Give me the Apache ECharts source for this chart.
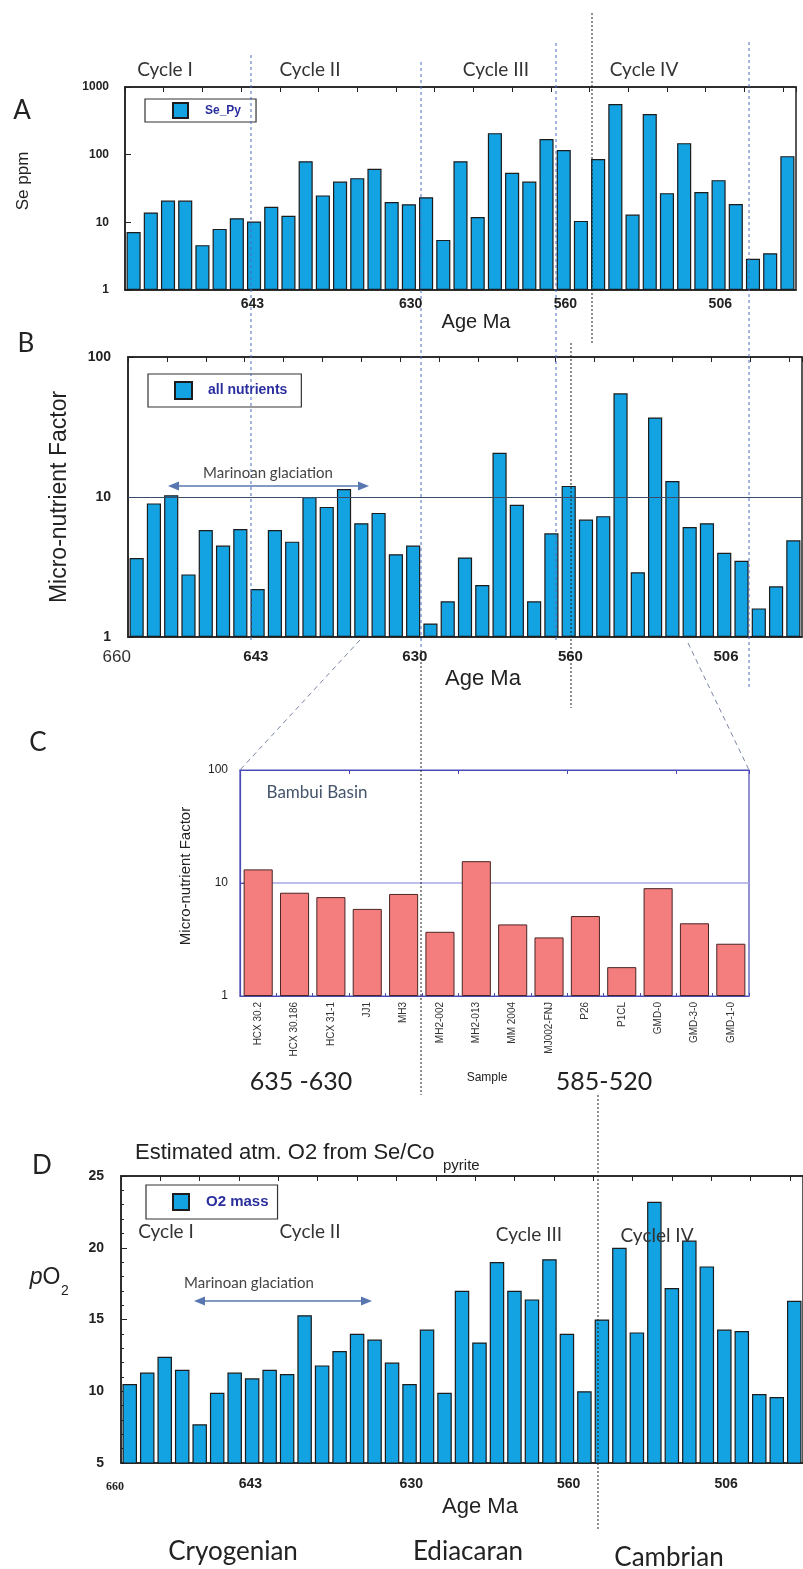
<!DOCTYPE html>
<html>
<head>
<meta charset="utf-8">
<script src="https://cdn.jsdelivr.net/npm/echarts@6/dist/echarts.min.js"></script>
<style>
html,body{margin:0;padding:0;background:#fff}
#main{width:803px;height:1569px}
</style>
</head>
<body>
<div id="main"></div>
<script>
// sample slots, oldest (660 Ma) on the left
const slots = ['1','2','3','4','5','6','7','8','9','10','11','12','13','14','15','16','17','18','19','20',
  '21','22','23','24','25','26','27','28','29','30','31','32','33','34','35','36','37','38','39']

// A: Se in pyrite (ppm, log)
const sePy = [7.2, 14, 21, 21, 4.6, 8, 11.5, 10.3, 17, 12.5, 80, 25, 40, 45, 62, 20, 18.5, 23.5, 5.5, 80,
  12, 208, 54, 40, 170, 117, 10.5, 86, 560, 13, 400, 27, 148, 28, 42, 18.6, 2.9, 3.5, 95]

// B: micro-nutrient factor (log)
const allNutrients = [3.67, 9.0, 10.3, 2.8, 5.8, 4.5, 5.9, 2.2, 5.8, 4.8, 10, 8.5, 11.4, 6.5, 7.7, 3.9, 4.5, 1.25, 1.8, 3.7,
  2.35, 20.7, 8.8, 1.8, 5.5, 12, 6.9, 7.3, 55, 2.9, 37, 13, 6.1, 6.5, 4.0, 3.5, 1.6, 2.3, 4.9]

// C: Bambui basin samples
const bambuiSamples = ['HCX 30.2','HCX 30.186','HCX 31-1','JJ1','MH3','MH2-002','MH2-013','MM 2004',
  'MJ002-FNJ','P26','P1CL','GMD-0','GMD-3-0','GMD-1-0']
const bambuiValues = [13.2, 8.2, 7.5, 5.9, 8.0, 3.7, 15.6, 4.3, 3.3, 5.1, 1.8, 9.0, 4.4, 2.9]

// D: pO2
const o2Mass = [10.5, 11.3, 12.4, 11.5, 7.7, 9.9, 11.3, 10.9, 11.5, 11.2, 15.3, 11.8, 12.8, 14.0, 13.6, 12.0, 10.5, 14.3, 9.9, 17.0,
  13.4, 19.0, 17.0, 16.4, 19.2, 14.0, 10.0, 15.0, 20.0, 14.1, 23.2, 17.2, 20.5, 18.7, 14.3, 14.2, 9.8, 9.6, 16.3]

// age tick labels and where they sit, in sample slots from the left edge
const ageTicks = ['643', '630', '560', '506']
const ageTickPos = [7.4, 16.6, 25.6, 34.6]
const firstAge = '660'
const firstAgePos = [-0.65, -0.35]   // panel B, panel D

const SANS = '"Liberation Sans", Arial, sans-serif'
const CAL = 'Lato, "Open Sans", sans-serif'
const BAR = '#13a2e2'
const EDGE = '#1c1c1c'
const LEG = '#2b2f9e'

const chart = echarts.init(document.getElementById('main'))

function catAxis(g, data, extra) {
  return Object.assign({
    type: 'category', gridIndex: g, data: data,
    axisLine: {show: true, lineStyle: {color: '#222', width: 1.5}},
    axisTick: {show: false}, axisLabel: {show: false}
  }, extra || {})
}
function slotAxis(g) {
  // hidden-label value axis over the same slots, used for top ticks and placing age labels
  return {
    type: 'value', gridIndex: g, position: 'top', min: 0, max: 39, interval: 2.25,
    axisLine: {show: true, lineStyle: {color: '#222', width: 1.5}},
    axisTick: {show: true, inside: true, length: 5, lineStyle: {color: '#222'}},
    axisLabel: {show: false}, splitLine: {show: false}
  }
}
function leftAxis(g, type, min, max, lab, extra) {
  return Object.assign({
    type: type, gridIndex: g, min: min, max: max, logBase: 10,
    axisLine: {show: true, lineStyle: {color: '#222', width: 1.5}},
    axisTick: {show: true, inside: true, length: 6, lineStyle: {color: '#222'}},
    axisLabel: lab, splitLine: {show: false}
  }, extra || {})
}
function legendBox(name, left, top, pad, icon, fs, tpad) {
  return {
    data: [name], left: left, top: top, padding: pad, selectedMode: false,
    borderColor: '#333', borderWidth: 1.2, icon: 'rect', itemWidth: icon, itemHeight: icon,
    textStyle: {fontFamily: SANS, fontWeight: 'bold', fontSize: fs, color: LEG, padding: [0, 0, 0, tpad]}
  }
}
const plain = v => String(Math.round(v))
const boldLab = (fs, m) => ({fontFamily: SANS, fontWeight: 'bold', fontSize: fs, color: '#222', margin: m, formatter: plain})

const option = {
  animation: false,
  backgroundColor: '#fff',
  grid: [
    {left: 125, top: 87, width: 671, height: 203, show: true, borderColor: '#222', borderWidth: 1.5},
    {left: 128, top: 357, width: 674, height: 280, show: true, borderColor: '#222', borderWidth: 1.5},
    {left: 240, top: 770, width: 509, height: 226, show: true, borderColor: '#4a4ab5', borderWidth: 1.2},
    {left: 121, top: 1176, width: 682, height: 287, show: true, borderColor: '#222', borderWidth: 1.5}
  ],
  legend: [
    legendBox('Se_Py', 145, 99, [3, 15, 3, 27], 15, 12, 12),
    legendBox('all nutrients', 148, 374, [7, 14, 7, 26], 17, 14, 11),
    legendBox('O2 mass', 146, 1185, [8, 9, 8, 26], 16, 15, 12)
  ],
  xAxis: [
    catAxis(0, slots),
    catAxis(1, slots),
    catAxis(2, bambuiSamples, {
      axisLine: {show: true, lineStyle: {color: '#4a4ab5', width: 1.2}},
      axisTick: {show: true, inside: true, length: 3, lineStyle: {color: '#4a4ab5'}},
      axisLabel: {show: true, rotate: 90, interval: 0, margin: 6, fontFamily: SANS, fontSize: 10, color: '#333'}
    }),
    catAxis(3, slots),
    slotAxis(0),
    slotAxis(1),
    slotAxis(3),
    catAxis(2, bambuiSamples, {
      position: 'top',
      axisLine: {show: true, lineStyle: {color: '#4a4ab5', width: 1.2}},
      axisTick: {show: true, inside: true, length: 4, lineStyle: {color: '#4a4ab5'}}
    })
  ],
  yAxis: [
    leftAxis(0, 'log', 1, 1000, boldLab(12, 16)),
    leftAxis(1, 'log', 1, 100, boldLab(14, 17)),
    leftAxis(2, 'log', 1, 100, {fontFamily: SANS, fontSize: 12, color: '#222', margin: 12, formatter: plain}, {
      axisLine: {show: true, lineStyle: {color: '#4a4ab5', width: 1.2}},
      axisTick: {show: true, inside: true, length: 5, lineStyle: {color: '#4a4ab5'}},
      splitLine: {show: true, lineStyle: {color: '#a9a9e3', width: 1.5}}
    }),
    leftAxis(3, 'value', 5, 25, boldLab(14, 17), {
      interval: 5,
      minorTick: {show: true, splitNumber: 5, length: 3, lineStyle: {color: '#222'}}
    })
  ],
  series: [
    {
      name: 'Se_Py', type: 'bar', xAxisIndex: 0, yAxisIndex: 0, data: sePy, barCategoryGap: '18%',
      itemStyle: {color: BAR, borderColor: EDGE, borderWidth: 1.2}
    },
    {
      name: 'all nutrients', type: 'bar', xAxisIndex: 1, yAxisIndex: 1, data: allNutrients, barCategoryGap: '18%',
      itemStyle: {color: BAR, borderColor: EDGE, borderWidth: 1.2},
      markLine: {
        silent: true, symbol: 'none', label: {show: false},
        lineStyle: {color: '#3b4c6b', width: 1.2, type: 'solid'},
        data: [{yAxis: 10}]
      }
    },
    {
      name: 'Bambui', type: 'bar', xAxisIndex: 2, yAxisIndex: 2, data: bambuiValues, barCategoryGap: '20%',
      itemStyle: {color: '#f47e7e', borderColor: '#4a2424', borderWidth: 1}
    },
    {
      name: 'O2 mass', type: 'bar', xAxisIndex: 3, yAxisIndex: 3, data: o2Mass, barCategoryGap: '17%',
      itemStyle: {color: BAR, borderColor: EDGE, borderWidth: 1.2}
    }
  ]
}
chart.setOption(option)

// annotations
function txt(x, y, str, font, fill, extra) {
  return Object.assign({
    type: 'text', x: x, y: y, z: 100,
    style: {text: str, font: font, fill: fill || '#222', align: 'center', verticalAlign: 'middle'}
  }, extra || {})
}
function ltxt(x, y, str, font) {
  return {type: 'text', x: x, y: y, z: 100,
    style: {text: str, font: font, fill: '#222', align: 'left', verticalAlign: 'middle'}}
}
function seg(x1, y1, x2, y2, color, dash, w) {
  return {type: 'line', z: 90, shape: {x1: x1, y1: y1, x2: x2, y2: y2},
    style: {stroke: color, lineWidth: w || 1, lineDash: dash || null}}
}
function arrow(x1, x2, y) {
  const c = '#5877b0'
  return [
    seg(x1 + 6, y, x2 - 6, y, c, null, 1.5),
    {type: 'polygon', z: 90, shape: {points: [[x1, y], [x1 + 11, y - 4.5], [x1 + 11, y + 4.5]]}, style: {fill: c}},
    {type: 'polygon', z: 90, shape: {points: [[x2, y], [x2 - 11, y - 4.5], [x2 - 11, y + 4.5]]}, style: {fill: c}}
  ]
}
const rot = {rotation: Math.PI / 2}
const g = []

// panel letters
g.push(txt(22, 111, 'A', '26px ' + CAL), txt(26, 344, 'B', '26px ' + CAL),
  txt(38, 743, 'C', '26px ' + CAL), txt(42, 1166, 'D', '26px ' + CAL))

// A
g.push(txt(165, 70, 'Cycle I', '19px ' + CAL, '#333'), txt(310, 70, 'Cycle II', '19px ' + CAL, '#333'),
  txt(496, 70, 'Cycle III', '19px ' + CAL, '#333'), txt(644, 70, 'Cycle IV', '19px ' + CAL, '#333'))
g.push(txt(23, 181, 'Se ppm', '17px ' + SANS, '#222', rot))
g.push(txt(476, 322, 'Age Ma', '20px ' + SANS))

// B
g.push(txt(60, 497, 'Micro-nutrient Factor', '23px ' + SANS, '#222', rot))
g.push(txt(268, 473, 'Marinoan glaciation', '15px ' + CAL, '#444'))
g.push(...arrow(168, 369, 486))
g.push(txt(483, 679, 'Age Ma', '22px ' + SANS))

// C
g.push(txt(186, 876, 'Micro-nutrient Factor', '15px ' + SANS, '#222', rot))
g.push(txt(317, 793, 'Bambui Basin', '17px ' + CAL, '#44546a'))
g.push(txt(301, 1082, '635 -630', '25px ' + CAL), txt(487, 1078, 'Sample', '12px ' + SANS),
  txt(604, 1082, '585-520', '25px ' + CAL))

// D
g.push(ltxt(135, 1153, 'Estimated atm. O2 from Se/Co', '22px ' + SANS))
g.push(ltxt(443, 1166, 'pyrite', '15px ' + SANS))
g.push({type: 'text', x: 45, y: 1278, z: 100, style: {
  text: '{i|p}O', font: '23px ' + SANS, fill: '#222', align: 'center', verticalAlign: 'middle',
  rich: {i: {fontStyle: 'italic', fontSize: 23, fontFamily: SANS}}}})
g.push(txt(65, 1291, '2', '14px ' + SANS))
g.push(txt(166, 1232, 'Cycle I', '19px ' + CAL, '#333'), txt(310, 1232, 'Cycle II', '19px ' + CAL, '#333'),
  txt(529, 1235, 'Cycle III', '19px ' + CAL, '#333'), txt(657, 1236, 'Cyclel IV', '19px ' + CAL, '#333'))
g.push(txt(249, 1283, 'Marinoan glaciation', '15px ' + CAL, '#444'))
g.push(...arrow(194, 372, 1301))
g.push(txt(480, 1507, 'Age Ma', '22px ' + SANS))
g.push(txt(233, 1552, 'Cryogenian', '26px ' + CAL), txt(468, 1552, 'Ediacaran', '26px ' + CAL),
  txt(669, 1558, 'Cambrian', '26px ' + CAL))

// age tick labels, placed through the slot axes
const tickRows = [[4, 304, 'bold 14px ' + SANS], [5, 657, 'bold 15px ' + SANS], [6, 1484, 'bold 14px ' + SANS]]
tickRows.forEach(function (r) {
  ageTicks.forEach(function (lab, i) {
    g.push(txt(chart.convertToPixel({xAxisIndex: r[0]}, ageTickPos[i]), r[1], lab, r[2]))
  })
})
g.push(txt(chart.convertToPixel({xAxisIndex: 5}, firstAgePos[0]), 657, firstAge, '17px ' + SANS, '#333'))
g.push(txt(chart.convertToPixel({xAxisIndex: 6}, firstAgePos[1]), 1487, firstAge, 'bold 12px "Liberation Serif", serif'))

// period boundaries and zoom guides
const BL = '#4a6fc0'
g.push(seg(251, 55, 251, 640, BL, [3, 3]), seg(421, 62, 421, 650, BL, [3, 3]),
  seg(556, 43, 556, 640, BL, [3, 3]), seg(749, 42, 749, 690, BL, [3, 3]))
g.push(seg(592, 13, 592, 343, '#222', [2, 2]), seg(571, 343, 571, 708, '#222', [2, 2]),
  seg(421, 650, 421, 1095, '#222', [2, 2]), seg(598, 1095, 598, 1530, '#222', [2, 2]))
g.push(seg(360, 640, 240, 770, '#7a86a6', [5, 4]), seg(688, 643, 749, 770, '#7a86a6', [5, 4]))

chart.setOption({graphic: g})
</script>
</body>
</html>
